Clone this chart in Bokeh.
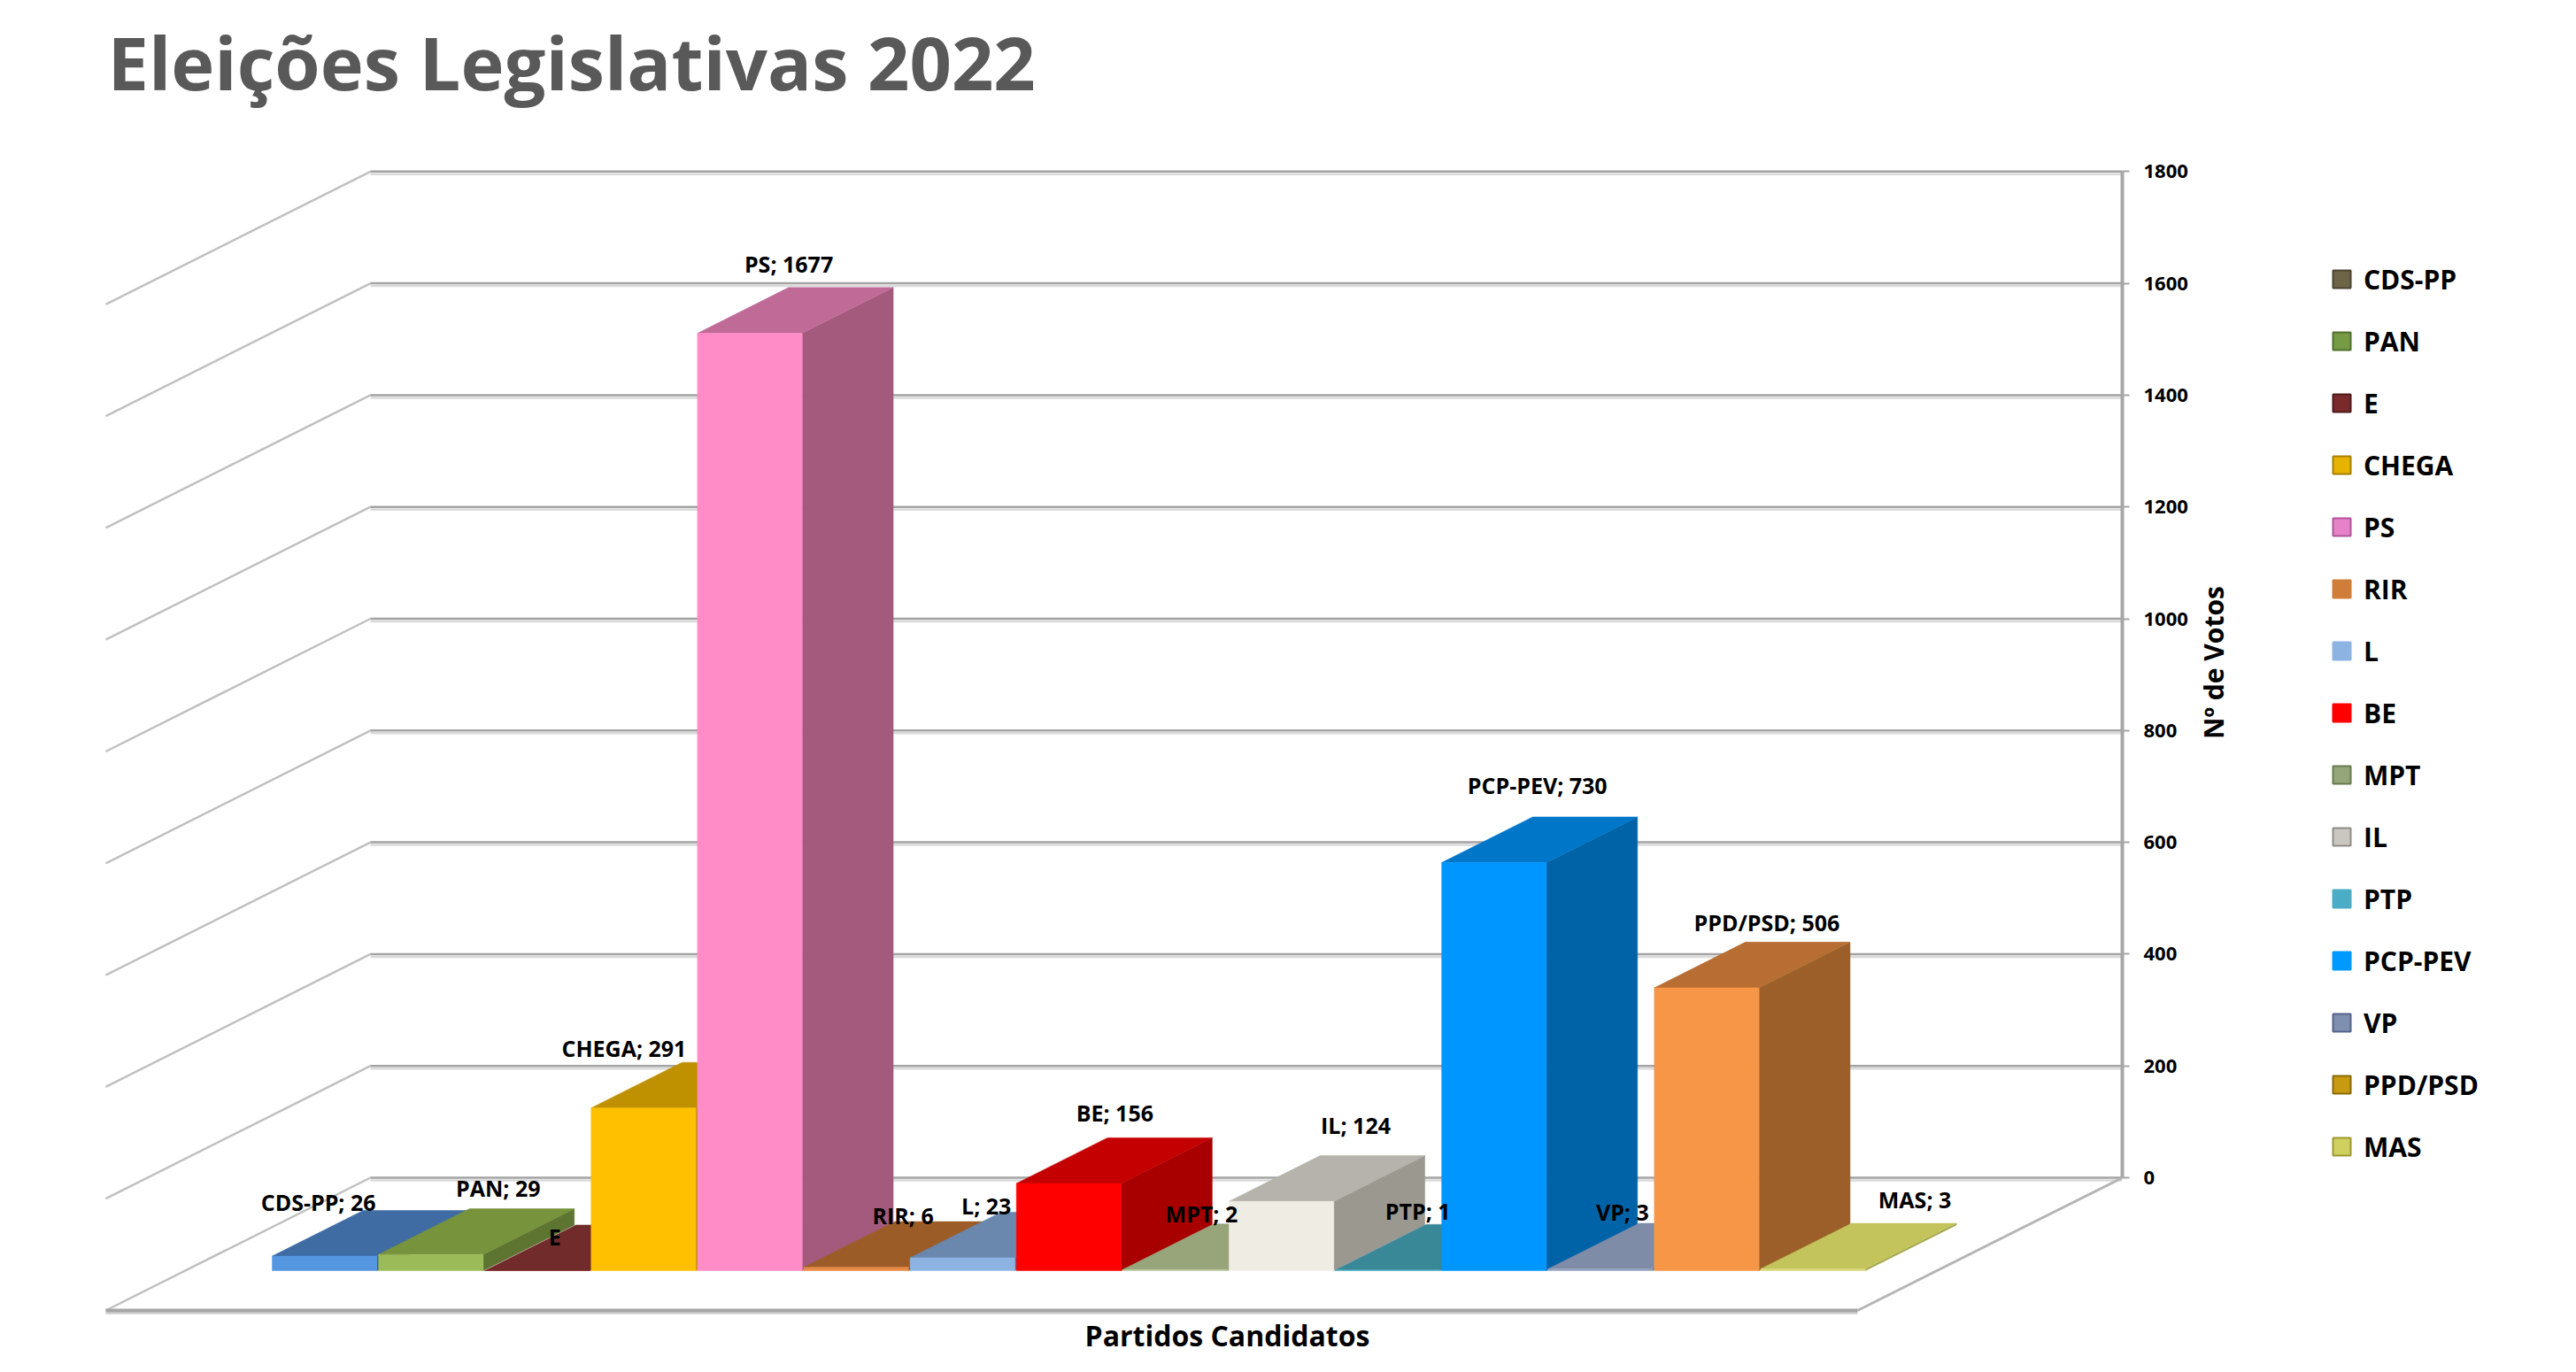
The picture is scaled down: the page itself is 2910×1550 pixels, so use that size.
import math
from bokeh.plotting import figure
from bokeh.layouts import row
from bokeh.models import Range1d, FixedTicker, Legend, LegendItem, ColumnDataSource
from bokeh.embed import file_html
from bokeh.resources import INLINE
from bokeh.core.properties import value

# ---------------- data ----------------
title_text = "Eleições Legislativas 2022"
x_title = "Partidos Candidatos"
y_title = "Nº de Votos"
parties = ["CDS-PP", "PAN", "E", "CHEGA", "PS", "RIR", "L", "BE", "MPT", "IL",
           "PTP", "PCP-PEV", "VP", "PPD/PSD", "MAS"]
votes = [26, 29, 0, 291, 1677, 6, 23, 156, 2, 124, 1, 730, 3, 506, 3]
y_ticks = [0, 200, 400, 600, 800, 1000, 1200, 1400, 1600, 1800]

# ---------------- styles ----------------
front_colors = ["#5596e0", "#9bbb59", "#8b3533", "#ffc000", "#ff8cc6", "#e68a46", "#8db3e2",
                "#ff0000", "#b5c295", "#efede3", "#4bacc6", "#0096ff", "#95a3c0", "#f79646", "#d7d778"]
top_colors = ["#3e6ca3", "#77933c", "#722b2b", "#bf9000", "#c06b97", "#9c5c28", "#6a88ae",
              "#c40000", "#98a47a", "#b5b3ab", "#388898", "#0076c8", "#7f8ca8", "#b86d33", "#c4c45c"]
side_colors = ["#2f5483", "#5d7530", "#5a2020", "#b38600", "#a35a7c", "#7a4a20", "#56709a",
               "#a80000", "#7d8862", "#9b9890", "#2f7282", "#0063a8", "#65718a", "#9c5f2a", "#a0a048"]
legend_colors = ["#6e6447", "#779a45", "#7a2a2a", "#e6b400", "#e683c8", "#d07d3a", "#8db3e2",
                 "#ff0000", "#95a67a", "#c9c7bf", "#4bacc6", "#0099ff", "#7f8fb0", "#c89a10", "#d0d060"]
legend_edges = ["#4a4330", "#50702c", "#4f1a1a", "#a67f00", "#b0559a", "#d07d3a", "#8db3e2",
                "#ff0000", "#6a7a50", "#8f8d86", "#4bacc6", "#0099ff", "#56638a", "#8a6a08", "#9a9a30"]
# label nudges in screen px relative to the top-front centre of each bar
label_dx = [-7, 76, 20, -22, 44, 53, 27, 52, 30, 84, 34, 49, 25, 68, 115]
label_dy = [61, 75, 39, 68, 78, 59, 59, 80, 63, 86, 67, 88, 65, 74, 79]

FONT = "Open Sans"

# ---------------- layout (screen px) ----------------
W, H = 2894, 1534
FRAME_TOP = 135
FRAME_RIGHT = 2397
AXIS_PANEL = 160
WALL_LEFT_PX = 418
SLOT_PX = 120.1
ZERO_PX = 1330
PX_PER_VOTE = 0.6315
DEPTH_PX = (-299.0, 150.0)
LEGEND_LEFT = 2620
LEGEND_TOP = 290
XTITLE_PX = (1386, 1508)

x_start = -WALL_LEFT_PX / SLOT_PX
x_end = (FRAME_RIGHT - WALL_LEFT_PX) / SLOT_PX
y_start = (ZERO_PX - H) / PX_PER_VOTE
y_end = (ZERO_PX - FRAME_TOP) / PX_PER_VOTE
DX = DEPTH_PX[0] / SLOT_PX
DY = -DEPTH_PX[1] / PX_PER_VOTE
WALL_W = x_end
D_FRONT, D_BACK = 0.70, 0.356
BAR_OFF, BAR_W = 0.8185, 0.985


def proj(x, v, d):
    return x + d * DX, v + d * DY


W1 = FRAME_RIGHT + AXIS_PANEL
p = figure(width=W1, height=H, x_range=Range1d(x_start, x_end), y_range=Range1d(y_start, y_end),
           output_backend="svg", toolbar_location=None, x_axis_location=None,
           y_axis_location="right", min_border_left=0, min_border_bottom=0,
           min_border_top=FRAME_TOP, min_border_right=AXIS_PANEL, title=title_text)
p.outline_line_color = None
p.xgrid.visible = False
p.ygrid.visible = False
p.background_fill_color = "white"

p.title.text_font = FONT
p.title.text_font_style = "bold"
p.title.text_font_size = "83px"
p.title.text_color = "#595959"
p.title.align = "left"
p.title.offset = 121
p.title.standoff = 20

# walls and floor
wall_x0, wall_y0, wall_x1, wall_y1 = [], [], [], []
grid_x0, grid_y0, grid_x1, grid_y1 = [], [], [], []
for t in y_ticks:
    a = proj(0, t, 0)
    b = proj(0, t, 1)
    wall_x0.append(a[0]); wall_y0.append(a[1]); wall_x1.append(b[0]); wall_y1.append(b[1])
    grid_x0.append(0); grid_y0.append(t); grid_x1.append(WALL_W); grid_y1.append(t)
p.segment(wall_x0, wall_y0, wall_x1, wall_y1, line_color="#c0c0c0", line_width=2.5)
shadow = 3.0 / PX_PER_VOTE
p.segment(grid_x0, [y - shadow for y in grid_y0], grid_x1, [y - shadow for y in grid_y1],
          line_color="#dadada", line_width=2.5)
p.segment(grid_x0, grid_y0, grid_x1, grid_y1, line_color="#a3a3a3", line_width=2.5)

fl = proj(0, 0, 1)
fr = proj(WALL_W, 0, 1)
p.segment([fl[0]], [fl[1] - shadow], [fr[0]], [fr[1] - shadow], line_color="#d4d4d4", line_width=3)
p.segment([fl[0]], [fl[1]], [fr[0]], [fr[1]], line_color="#a6a6a6", line_width=4)
p.segment([WALL_W], [0], [fr[0]], [fr[1]], line_color="#b5b5b5", line_width=3)

# bars (3D prisms)
sides_x, sides_y, tops_x, tops_y, fronts_x, fronts_y = [], [], [], [], [], []
for i, v in enumerate(votes):
    xl = BAR_OFF + i
    xr = xl + BAR_W
    f0 = proj(xl, 0, D_FRONT); f1 = proj(xr, 0, D_FRONT)
    f2 = proj(xr, v, D_FRONT); f3 = proj(xl, v, D_FRONT)
    b1 = proj(xr, 0, D_BACK); b2 = proj(xr, v, D_BACK); b3 = proj(xl, v, D_BACK)
    sides_x.append([f1[0], b1[0], b2[0], f2[0]]); sides_y.append([f1[1], b1[1], b2[1], f2[1]])
    tops_x.append([f3[0], f2[0], b2[0], b3[0]]); tops_y.append([f3[1], f2[1], b2[1], b3[1]])
    fronts_x.append([f0[0], f1[0], f2[0], f3[0]]); fronts_y.append([f0[1], f1[1], f2[1], f3[1]])
p.patches(sides_x, sides_y, fill_color=side_colors, line_color=side_colors, line_width=0.5)
p.patches(tops_x, tops_y, fill_color=top_colors, line_color=top_colors, line_width=0.5)
p.patches(fronts_x, fronts_y, fill_color=front_colors, line_color=front_colors, line_width=0.5)

# data labels
lab_x, lab_y, lab_t = [], [], []
for i, (name, v) in enumerate(zip(parties, votes)):
    c = proj(BAR_OFF + i + BAR_W / 2, v, D_FRONT)
    lab_x.append(c[0]); lab_y.append(c[1])
    lab_t.append(name if v == 0 else f"{name}; {v}")
src = ColumnDataSource(dict(x=lab_x, y=lab_y, text=lab_t, dx=label_dx, dy=[-d for d in label_dy]))
p.text(x="x", y="y", text="text", x_offset="dx", y_offset="dy", source=src,
       text_font=value(FONT), text_font_style="bold", text_font_size="25px",
       text_color="black", text_align="center", text_baseline="middle")

# category-axis title under the floor
xt_x = (XTITLE_PX[0] - WALL_LEFT_PX) / SLOT_PX
xt_y = (ZERO_PX - XTITLE_PX[1]) / PX_PER_VOTE
p.text(x=[xt_x], y=[xt_y], text=[x_title], text_font=value(FONT), text_font_style="bold",
       text_font_size="32px", text_color="black", text_align="center", text_baseline="middle")

# value axis
ax = p.yaxis[0]
ax.bounds = (y_ticks[0], y_ticks[-1])
ax.ticker = FixedTicker(ticks=y_ticks)
ax.axis_line_color = "#a6a6a6"
ax.axis_line_width = 4
ax.major_tick_line_color = "#a6a6a6"
ax.major_tick_line_width = 2
ax.major_tick_out = 8
ax.major_tick_in = 0
ax.minor_tick_line_color = None
ax.major_label_standoff = 16
ax.major_label_text_font = FONT
ax.major_label_text_font_style = "bold"
ax.major_label_text_font_size = "22px"
ax.major_label_text_color = "black"
ax.axis_label = y_title
ax.axis_label_text_font = FONT
ax.axis_label_text_font_style = "bold"
ax.axis_label_text_font_size = "30px"
ax.axis_label_text_color = "black"
ax.axis_label_standoff = 26
ax.axis_label_orientation = math.pi / 2

# legend in its own narrow figure to the right
W2 = W - W1
q = figure(width=W2, height=H, x_range=Range1d(0, 1), y_range=Range1d(0, 1),
           output_backend="svg", toolbar_location=None, x_axis_location=None,
           y_axis_location=None, min_border=0, min_border_left=0, min_border_right=0,
           min_border_top=0, min_border_bottom=0)
q.outline_line_color = None
q.xgrid.visible = False
q.ygrid.visible = False
items = []
for name, col, edge in zip(parties, legend_colors, legend_edges):
    r = q.scatter(x=[float("nan")], y=[float("nan")], marker="square",
                  fill_color=col, line_color=edge, line_width=2)
    items.append(LegendItem(label=name, renderers=[r]))
n_items = len(items)
leg_h = n_items * 50 + (n_items - 1) * 20
legend = Legend(items=items, location=(LEGEND_LEFT - W1, H - (LEGEND_TOP + leg_h)),
                glyph_width=50, glyph_height=50,
                label_height=50, spacing=20, label_standoff=-6, padding=0, margin=0,
                border_line_color=None, background_fill_alpha=0,
                label_text_font=FONT, label_text_font_style="bold",
                label_text_font_size="30px", label_text_color="black")
q.add_layout(legend, "center")

open("out.html", "w").write(file_html(row(p, q), INLINE))
